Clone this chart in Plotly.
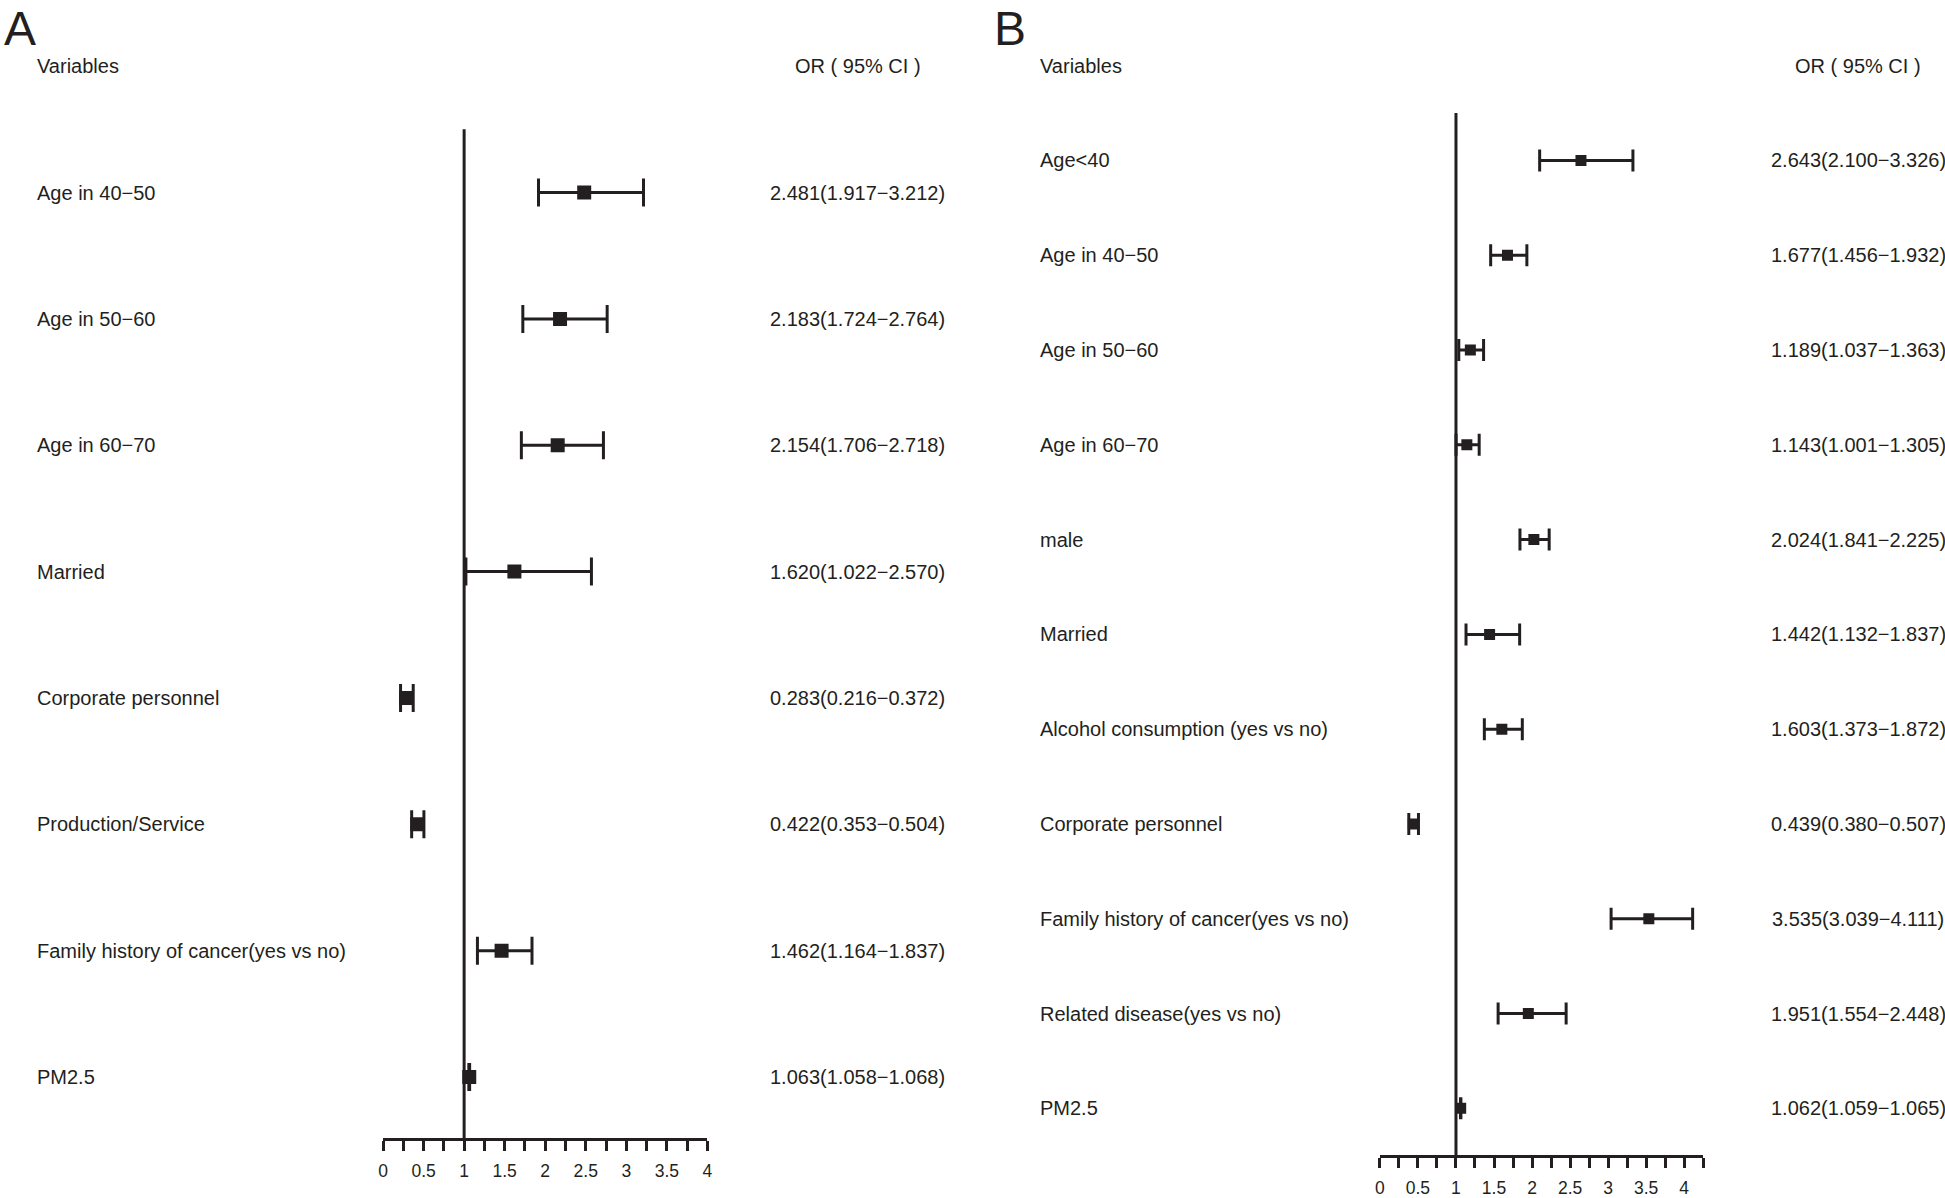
import plotly.graph_objects as go

# ---------------- data ----------------
a_vars = ["Age in 40\u221250", "Age in 50\u221260", "Age in 60\u221270", "Married",
          "Corporate personnel", "Production/Service",
          "Family history of cancer(yes vs no)", "PM2.5"]
a_or = [2.481, 2.183, 2.154, 1.620, 0.283, 0.422, 1.462, 1.063]
a_lo = [1.917, 1.724, 1.706, 1.022, 0.216, 0.353, 1.164, 1.058]
a_hi = [3.212, 2.764, 2.718, 2.570, 0.372, 0.504, 1.837, 1.068]

b_vars = ["Age<40", "Age in 40\u221250", "Age in 50\u221260", "Age in 60\u221270", "male",
          "Married", "Alcohol consumption (yes vs no)", "Corporate personnel",
          "Family history of cancer(yes vs no)", "Related disease(yes vs no)", "PM2.5"]
b_or = [2.643, 1.677, 1.189, 1.143, 2.024, 1.442, 1.603, 0.439, 3.535, 1.951, 1.062]
b_lo = [2.100, 1.456, 1.037, 1.001, 1.841, 1.132, 1.373, 0.380, 3.039, 1.554, 1.059]
b_hi = [3.326, 1.932, 1.363, 1.305, 2.225, 1.837, 1.872, 0.507, 4.111, 2.448, 1.065]

tick_vals = [0, 0.5, 1, 1.5, 2, 2.5, 3, 3.5, 4]
tick_text = ["0", "0.5", "1", "1.5", "2", "2.5", "3", "3.5", "4"]

W, H = 1945, 1198
HE = 1192  # effective vertical scale used for layout placement
INK = "#231f20"
FONT = "Liberation Sans, Arial, Helvetica, sans-serif"
FS = 20

fig = go.Figure()


def add_panel(vars_, ors, los, his, xa, ya, msize, capw, lbl_x, val_x):
    n = len(vars_)
    rows = list(range(n))
    fig.add_trace(go.Scatter(
        x=ors, y=rows, mode="markers",
        marker=dict(symbol="square", size=msize, color=INK, line=dict(width=0)),
        error_x=dict(type="data", symmetric=False,
                     array=[h - o for h, o in zip(his, ors)],
                     arrayminus=[o - l for o, l in zip(ors, los)],
                     color=INK, thickness=3, width=capw),
        xaxis=xa, yaxis=ya, showlegend=False, hoverinfo="skip"))
    yref = ya
    xref = xa
    # reference line at OR = 1
    fig.add_shape(type="line", x0=1, x1=1, y0=-0.5, y1=n - 0.5,
                  xref=xref, yref=yref, line=dict(color=INK, width=3), layer="below")
    # headers
    fig.add_annotation(text="Variables", x=lbl_x / W, xref="paper", xanchor="left",
                       y=-1, yref=yref, yanchor="middle", showarrow=False,
                       font=dict(family=FONT, size=FS, color=INK))
    fig.add_annotation(text="OR ( 95% CI )", x=val_x / W, xref="paper", xanchor="center",
                       y=-1, yref=yref, yanchor="middle", showarrow=False,
                       font=dict(family=FONT, size=FS, color=INK))
    for i, (v, o, l, h) in enumerate(zip(vars_, ors, los, his)):
        fig.add_annotation(text=v, x=lbl_x / W, xref="paper", xanchor="left",
                           y=i, yref=yref, yanchor="middle", showarrow=False,
                           font=dict(family=FONT, size=FS, color=INK))
        fig.add_annotation(text=f"{o:.3f}({l:.3f}\u2212{h:.3f})", x=val_x / W,
                           xref="paper", xanchor="center", y=i, yref=yref,
                           yanchor="middle", showarrow=False,
                           font=dict(family=FONT, size=FS, color=INK))


add_panel(a_vars, a_or, a_lo, a_hi, "x", "y", 14, 14, 30, 857)
add_panel(b_vars, b_or, b_lo, b_hi, "x2", "y2", 11, 11, 1038, 1863)

# panel letters
fig.add_annotation(text="A", x=-3 / W, xref="paper", xanchor="left", y=1,
                   yref="paper", yanchor="top", showarrow=False,
                   font=dict(family=FONT, size=48, color=INK))
fig.add_annotation(text="B", x=992 / W, xref="paper", xanchor="left", y=1,
                   yref="paper", yanchor="top", showarrow=False,
                   font=dict(family=FONT, size=48, color=INK))

xcommon = dict(showgrid=False, zeroline=False, showline=True, linecolor=INK, linewidth=2.5,
               ticks="outside", ticklen=10, tickwidth=2.5, tickcolor=INK,
               tickvals=tick_vals, ticktext=tick_text, ticklabelstandoff=5,
               tickfont=dict(family=FONT, size=17.5, color=INK),
               minor=dict(dtick=0.25, tick0=0, ticks="outside", ticklen=10, tickwidth=2.5,
                          tickcolor=INK, showgrid=False),
               anchor="free", fixedrange=True)

a_top, a_step = 193.5, 127.0
b_top, b_step = 161.3, 95.26

fig.update_layout(
    width=W, height=H, margin=dict(l=0, r=0, t=0, b=0),
    paper_bgcolor="white", plot_bgcolor="white",
    xaxis=dict(domain=[380 / W, 706 / W], range=[0, 4], position=1 - 1145 / HE, **xcommon),
    xaxis2=dict(domain=[1382 / W, 1707 / W], range=[0, 4.25], position=1 - 1162 / HE, **xcommon),
    yaxis=dict(domain=[0, 1], range=[(HE - a_top) / a_step, -a_top / a_step],
               visible=False, anchor="x"),
    yaxis2=dict(domain=[0, 1], range=[(HE - b_top) / b_step, -b_top / b_step],
                visible=False, anchor="x2"),
)

fig.write_html("out.html", config={"displayModeBar": False},
               post_script="document.body.style.margin='0';document.body.style.padding='0';")
